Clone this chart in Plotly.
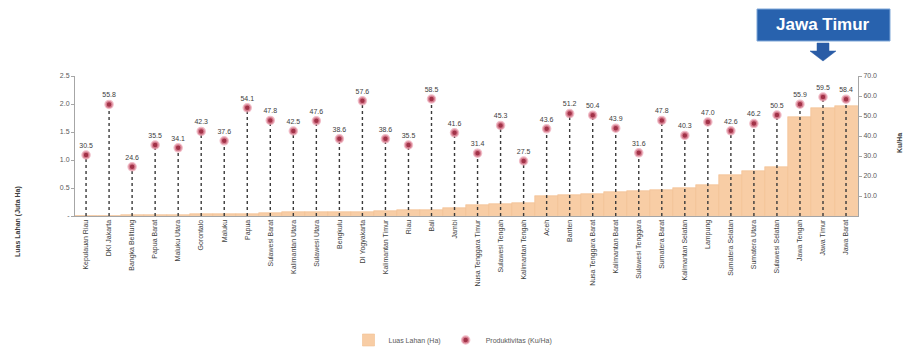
import plotly.graph_objects as go

# Provinces sorted by harvested rice area
provinsi = [
    "Kepulauan Riau", "DKI Jakarta", "Bangka Belitung", "Papua Barat", "Maluku Utara",
    "Gorontalo", "Maluku", "Papua", "Sulawesi Barat", "Kalimantan Utara",
    "Sulawesi Utara", "Bengkulu", "DI Yogyakarta", "Kalimantan Timur", "Riau",
    "Bali", "Jambi", "Nusa Tenggara Timur", "Sulawesi Tengah", "Kalimantan Tengah",
    "Aceh", "Banten", "Nusa Tenggara Barat", "Kalimantan Barat", "Sulawesi Tenggara",
    "Sumatera Barat", "Kalimantan Selatan", "Lampung", "Sumatera Selatan", "Sumatera Utara",
    "Sulawesi Selatan", "Jawa Tengah", "Jawa Timur", "Jawa Barat",
]

# Harvested area (million ha)
luas_lahan = [
    0.001, 0.002, 0.01, 0.01, 0.02,
    0.03, 0.03, 0.04, 0.06, 0.07,
    0.07, 0.08, 0.08, 0.09, 0.10,
    0.11, 0.15, 0.20, 0.22, 0.24,
    0.36, 0.37, 0.40, 0.42, 0.44,
    0.47, 0.50, 0.56, 0.73, 0.81,
    0.87, 1.77, 1.93, 1.96,
]

# Productivity (Ku/Ha)
produktivitas = [
    30.5, 55.8, 24.6, 35.5, 34.1,
    42.3, 37.6, 54.1, 47.8, 42.5,
    47.6, 38.6, 57.6, 38.6, 35.5,
    58.5, 41.6, 31.4, 45.3, 27.5,
    43.6, 51.2, 50.4, 43.9, 31.6,
    47.8, 40.3, 47.0, 42.6, 46.2,
    50.5, 55.9, 59.5, 58.4,
]

left_ticks = [0, 0.5, 1.0, 1.5, 2.0, 2.5]
left_ticktext = ["-", "0.5", "1.0", "1.5", "2.0", "2.5"]
right_ticks = [10, 20, 30, 40, 50, 60, 70]

W, H = 906, 350
L, R, T, B = 75, 858, 76, 216


def px(x):
    return (x - L) / (R - L)


def py(y):
    return (B - y) / (B - T)


idx = list(range(len(provinsi)))

# dotted stems from the axis to each productivity point
stem_x, stem_y = [], []
for i, v in zip(idx, produktivitas):
    stem_x += [i, i, None]
    stem_y += [0, v, None]

fig = go.Figure()

fig.add_trace(go.Bar(
    x=idx, y=luas_lahan, name="Luas Lahan (Ha)",
    marker=dict(color="#F8CDA5", line=dict(color="#F2BF90", width=0.6)),
    width=1.0, yaxis="y",
))

fig.add_trace(go.Scatter(
    x=stem_x, y=stem_y, mode="lines", yaxis="y2", showlegend=False,
    line=dict(color="#3A3A3A", width=1.4, dash="dot"), hoverinfo="skip",
))

fig.add_trace(go.Scatter(
    x=idx, y=produktivitas, mode="markers+text", yaxis="y2",
    name="Produktivitas (Ku/Ha)",
    text=[f"{v:.1f}" for v in produktivitas], textposition="top center",
    textfont=dict(size=7, color="#404040", family="Liberation Sans"),
    marker=dict(color="#A23248", size=7,
                line=dict(color="rgba(235,160,175,0.7)", width=2.5)),
))

fig.update_layout(
    width=W, height=H,
    margin=dict(l=L, r=W - R, t=T, b=H - B),
    paper_bgcolor="white", plot_bgcolor="white",
    font=dict(family="Liberation Sans", size=7, color="#595959"),
    bargap=0,
    xaxis=dict(
        tickmode="array", tickvals=idx, ticktext=provinsi, tickangle=-90,
        range=[-0.48, len(provinsi) - 0.48], showgrid=False,
        showline=True, linecolor="#A6A6A6", linewidth=1,
        ticks="", tickfont=dict(size=7, color="#404040"),
    ),
    yaxis=dict(
        range=[0, 2.5], tickvals=left_ticks, ticktext=left_ticktext,
        showgrid=False, zeroline=False, showline=True, linecolor="#A6A6A6",
        ticks="outside", ticklen=3, tickcolor="#A6A6A6",
        tickfont=dict(size=7, color="#595959"),
    ),
    yaxis2=dict(
        range=[0, 70], tickvals=right_ticks, tickformat=".1f",
        overlaying="y", side="right", showgrid=False, zeroline=False,
        showline=True, linecolor="#A6A6A6", ticks="outside", ticklen=3,
        tickcolor="#A6A6A6", tickfont=dict(size=7, color="#595959"),
    ),
    legend=dict(
        orientation="h", xref="container", yref="container",
        x=0.5, xanchor="center", y=1 - 340 / H, yanchor="middle",
        font=dict(size=7, color="#595959"), itemwidth=30,
    ),
    showlegend=True,
)

# axis titles
fig.add_annotation(
    text="<b>Luas Lahan (Juta Ha)</b>", textangle=-90, showarrow=False,
    xref="paper", yref="paper", x=px(18), y=py(222),
    xanchor="center", yanchor="middle",
    font=dict(size=7, color="#404040"),
)
fig.add_annotation(
    text="<b>Ku/Ha</b>", textangle=-90, showarrow=False,
    xref="paper", yref="paper", x=px(899), y=py(143),
    xanchor="center", yanchor="middle",
    font=dict(size=7, color="#404040"),
)

# highlight callout
fig.add_shape(
    type="rect", xref="paper", yref="paper", layer="below",
    x0=px(757), x1=px(890), y0=py(41), y1=py(9),
    fillcolor="#2862AE", line=dict(color="#7FA7D8", width=1),
)
fig.add_annotation(
    text="<b>Jawa Timur</b>", showarrow=False, xref="paper", yref="paper",
    x=px(823), y=py(25), xanchor="center", yanchor="middle",
    font=dict(size=17, color="white", family="Liberation Sans"),
)
arrow = [(817, 43), (829, 43), (829, 51), (836, 51), (823, 61), (810, 51), (817, 51)]
path = "M " + " L ".join(f"{px(a)},{py(b)}" for a, b in arrow) + " Z"
fig.add_shape(
    type="path", xref="paper", yref="paper", path=path,
    fillcolor="#2A5CA6", line=dict(color="#2A5CA6", width=0.5),
)

fig.write_html("out.html")
